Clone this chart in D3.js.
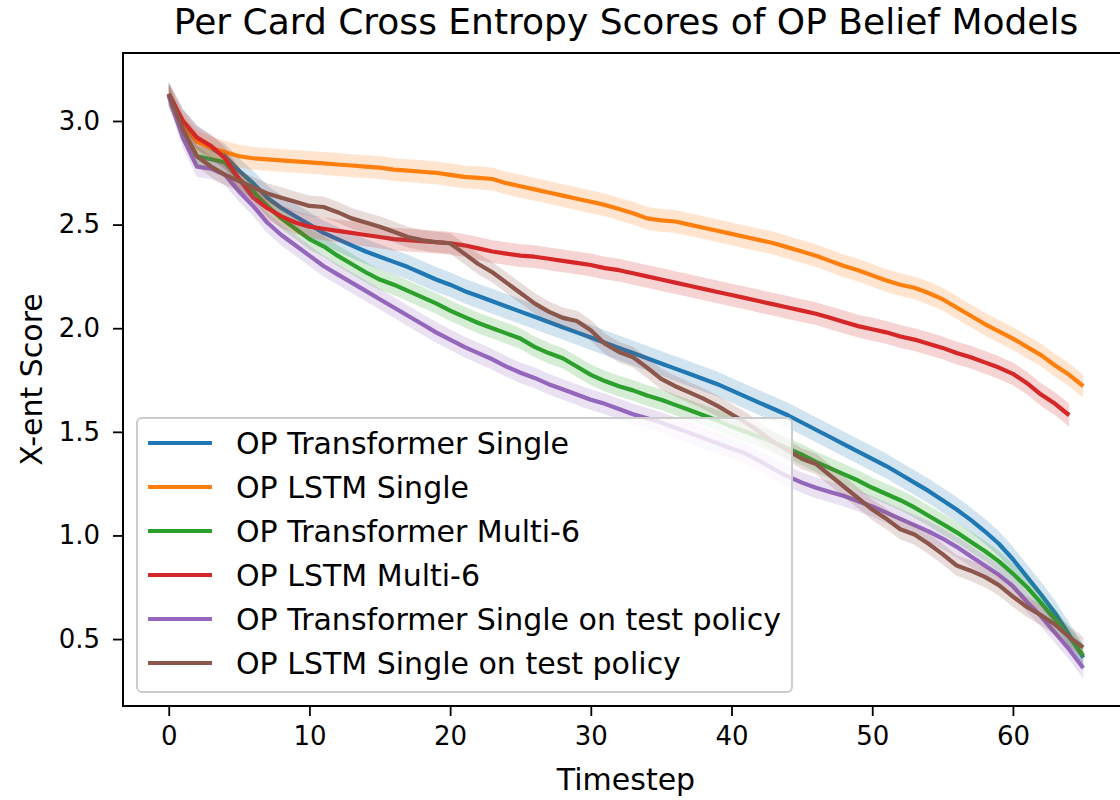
<!DOCTYPE html>
<meta charset="utf-8">
<script src="https://d3js.org/d3.v7.min.js"></script>
<style>
  body { margin: 0; background: #fff; }
  text { font-family: "DejaVu Sans", sans-serif; fill: #000; }
</style>
<body>
<div id="chart"></div>
<script>
// series names, in legend order
var names = [
  "OP Transformer Single",
  "OP LSTM Single",
  "OP Transformer Multi-6",
  "OP LSTM Multi-6",
  "OP Transformer Single on test policy",
  "OP LSTM Single on test policy"
];
var colors = ["#1f77b4", "#ff7f0e", "#2ca02c", "#d62728", "#9467bd", "#8c564b"];

// mean x-ent score per timestep (t = 0, 1, 2, ...)
var transformerSingle = [3.13, 3.00, 2.92, 2.87, 2.83, 2.76, 2.70, 2.63, 2.58, 2.54,
  2.50, 2.46, 2.43, 2.40, 2.37, 2.345, 2.32, 2.295, 2.265, 2.235,
  2.21, 2.18, 2.155, 2.13, 2.105, 2.08, 2.055, 2.03, 2.005, 1.98,
  1.955, 1.93, 1.905, 1.88, 1.855, 1.83, 1.805, 1.78, 1.755, 1.73,
  1.70, 1.67, 1.64, 1.61, 1.58, 1.545, 1.51, 1.475, 1.44, 1.405,
  1.37, 1.335, 1.295, 1.255, 1.215, 1.17, 1.125, 1.075, 1.02, 0.96,
  0.885, 0.80, 0.715, 0.625, 0.52, 0.41];
var lstmSingle = [3.13, 2.98, 2.90, 2.87, 2.85, 2.83, 2.82, 2.815, 2.81, 2.805,
  2.80, 2.795, 2.79, 2.785, 2.78, 2.775, 2.765, 2.76, 2.755, 2.75,
  2.74, 2.73, 2.725, 2.72, 2.70, 2.685, 2.67, 2.655, 2.64, 2.625,
  2.61, 2.595, 2.575, 2.555, 2.53, 2.52, 2.515, 2.50, 2.485, 2.47,
  2.455, 2.44, 2.425, 2.41, 2.39, 2.37, 2.35, 2.325, 2.30, 2.28,
  2.255, 2.23, 2.21, 2.195, 2.17, 2.14, 2.10, 2.06, 2.02, 1.985,
  1.95, 1.91, 1.87, 1.82, 1.775, 1.72];
var transformerMulti = [3.13, 2.95, 2.83, 2.815, 2.80, 2.72, 2.66, 2.59, 2.53, 2.48,
  2.43, 2.395, 2.35, 2.31, 2.27, 2.235, 2.21, 2.18, 2.15, 2.12,
  2.085, 2.055, 2.025, 2.00, 1.975, 1.95, 1.91, 1.88, 1.855, 1.815,
  1.775, 1.745, 1.72, 1.70, 1.675, 1.655, 1.63, 1.605, 1.58, 1.555,
  1.525, 1.50, 1.475, 1.45, 1.42, 1.39, 1.355, 1.325, 1.295, 1.265,
  1.23, 1.20, 1.17, 1.135, 1.095, 1.055, 1.015, 0.97, 0.925, 0.875,
  0.815, 0.75, 0.675, 0.595, 0.51, 0.42];
var lstmMulti = [3.13, 3.00, 2.92, 2.88, 2.82, 2.72, 2.63, 2.58, 2.54, 2.51,
  2.49, 2.48, 2.47, 2.46, 2.45, 2.44, 2.43, 2.425, 2.42, 2.415,
  2.41, 2.40, 2.385, 2.37, 2.36, 2.35, 2.345, 2.335, 2.325, 2.315,
  2.305, 2.29, 2.28, 2.265, 2.25, 2.235, 2.22, 2.205, 2.19, 2.175,
  2.16, 2.145, 2.13, 2.115, 2.10, 2.085, 2.07, 2.05, 2.03, 2.01,
  1.995, 1.98, 1.96, 1.945, 1.925, 1.905, 1.88, 1.86, 1.835, 1.81,
  1.78, 1.735, 1.68, 1.635, 1.58];
var transformerTest = [3.12, 2.92, 2.78, 2.77, 2.74, 2.66, 2.59, 2.51, 2.45, 2.40,
  2.35, 2.30, 2.26, 2.22, 2.18, 2.14, 2.10, 2.06, 2.02, 1.98,
  1.945, 1.91, 1.88, 1.85, 1.815, 1.785, 1.76, 1.73, 1.705, 1.68,
  1.655, 1.635, 1.61, 1.585, 1.565, 1.545, 1.52, 1.495, 1.47, 1.445,
  1.42, 1.395, 1.36, 1.32, 1.285, 1.255, 1.23, 1.21, 1.19, 1.165,
  1.14, 1.11, 1.08, 1.05, 1.02, 0.985, 0.945, 0.90, 0.855, 0.81,
  0.755, 0.68, 0.61, 0.53, 0.45, 0.36];
var lstmTest = [3.13, 2.96, 2.83, 2.78, 2.74, 2.71, 2.68, 2.65, 2.63, 2.61,
  2.59, 2.585, 2.56, 2.53, 2.51, 2.49, 2.465, 2.44, 2.425, 2.415,
  2.41, 2.36, 2.31, 2.27, 2.22, 2.17, 2.12, 2.08, 2.05, 2.035,
  1.99, 1.925, 1.885, 1.86, 1.81, 1.755, 1.72, 1.69, 1.66, 1.625,
  1.585, 1.545, 1.50, 1.45, 1.41, 1.37, 1.345, 1.29, 1.235, 1.18,
  1.125, 1.08, 1.03, 1.005, 0.96, 0.91, 0.855, 0.83, 0.80, 0.76,
  0.705, 0.655, 0.615, 0.57, 0.51, 0.46];

// half width of the shaded band around each mean
var bandHalf = [0.06, 0.055, 0.05, 0.055, 0.05, 0.05];

var xTicks = [0, 10, 20, 30, 40, 50, 60];
var yTicks = [0.5, 1.0, 1.5, 2.0, 2.5, 3.0];

var allSeries = [transformerSingle, lstmSingle, transformerMulti, lstmMulti, transformerTest, lstmTest];

var W = 1120, H = 800;
var margin = {top: 53, left: 123, bottom: 94, right: -9};
var width = W - margin.left - margin.right,
    height = H - margin.top - margin.bottom;

var svg = d3.select("#chart").append("svg")
    .attr("width", W)
    .attr("height", H);

var g = svg.append("g")
    .attr("transform", "translate(" + margin.left + "," + margin.top + ")");

var x = d3.scaleLinear().domain([-3.25, 68.25]).range([0, width]);
var y = d3.scaleLinear().domain([0.177, 3.328]).range([height, 0]);

// bands + lines
allSeries.forEach(function(vals, i) {
  var pts = vals.map(function(v, t) { return {t: t, v: v}; });
  g.append("path")
    .datum(pts)
    .attr("fill", colors[i])
    .attr("fill-opacity", 0.2)
    .attr("stroke", "none")
    .attr("d", d3.area()
      .x(function(d) { return x(d.t); })
      .y0(function(d) { return y(d.v - bandHalf[i]); })
      .y1(function(d) { return y(d.v + bandHalf[i]); }));
  g.append("path")
    .datum(pts)
    .attr("fill", "none")
    .attr("stroke", colors[i])
    .attr("stroke-width", 4.2)
    .attr("stroke-linejoin", "round")
    .attr("d", d3.line()
      .x(function(d) { return x(d.t); })
      .y(function(d) { return y(d.v); }));
});

// axes
var xAxis = g.append("g")
    .attr("transform", "translate(0," + height + ")")
    .call(d3.axisBottom(x).tickValues(xTicks).tickSize(10).tickPadding(11).tickFormat(d3.format("d")));
var yAxis = g.append("g")
    .call(d3.axisLeft(y).tickValues(yTicks).tickSize(10).tickPadding(13).tickFormat(d3.format(".1f")));
[xAxis, yAxis].forEach(function(a) {
  a.select(".domain").remove();
  a.selectAll(".tick line").attr("stroke", "#000").attr("stroke-width", 1.8);
  a.selectAll(".tick text").style("font-size", "26px").attr("fill", "#000");
});

// spines (right one falls outside the picture)
g.append("rect")
  .attr("x", 0).attr("y", 0)
  .attr("width", width).attr("height", height)
  .attr("fill", "none")
  .attr("stroke", "#000")
  .attr("stroke-width", 2);

// legend
var leg = g.append("g").attr("transform", "translate(" + (137 - margin.left) + "," + (418 - margin.top) + ")");
leg.append("rect")
  .attr("width", 655).attr("height", 274)
  .attr("rx", 5)
  .attr("fill", "#fff")
  .attr("fill-opacity", 0.8)
  .attr("stroke", "#cccccc")
  .attr("stroke-width", 2);
names.forEach(function(n, i) {
  var ry = 25 + i * 44;
  leg.append("line")
    .attr("x1", 11).attr("x2", 75)
    .attr("y1", ry).attr("y2", ry)
    .attr("stroke", colors[i])
    .attr("stroke-width", 4.2);
  leg.append("text")
    .attr("x", 99).attr("y", ry)
    .attr("dy", "0.35em")
    .style("font-size", "30px")
    .text(n);
});

// title + labels
svg.append("text")
  .attr("x", margin.left + width / 2)
  .attr("y", 34)
  .attr("text-anchor", "middle")
  .style("font-size", "36px")
  .text("Per Card Cross Entropy Scores of OP Belief Models");
svg.append("text")
  .attr("x", margin.left + width / 2)
  .attr("y", 790)
  .attr("text-anchor", "middle")
  .style("font-size", "30px")
  .text("Timestep");
svg.append("text")
  .attr("transform", "translate(42," + (margin.top + height / 2) + ") rotate(-90)")
  .attr("text-anchor", "middle")
  .style("font-size", "30px")
  .text("X-ent Score");
</script>
</body>
